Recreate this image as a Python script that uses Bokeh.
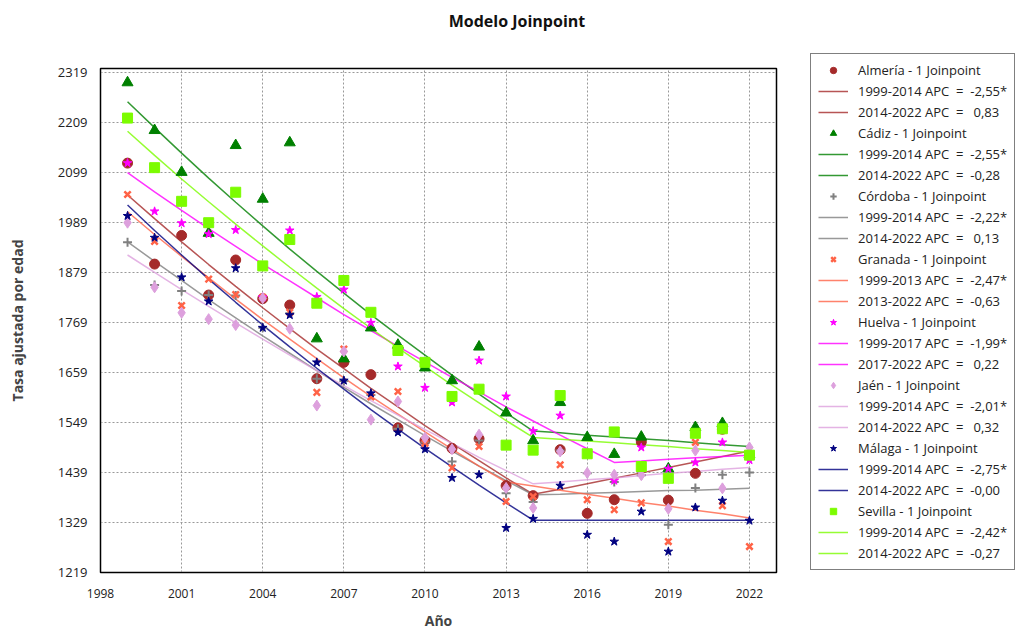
from bokeh.plotting import figure
from bokeh.models import Legend, LegendItem, FixedTicker, Range1d, Div
from bokeh.layouts import column
from bokeh.embed import file_html
from bokeh.resources import INLINE

years = list(range(1999, 2023))

provinces = ["Almería", "Cádiz", "Córdoba", "Granada", "Huelva", "Jaén", "Málaga", "Sevilla"]

obs_almeria = [2119, 1897, 1960, 1829, 1906, 1821, 1807, 1645, 1681, 1654, 1537, 1509, 1492, 1513, 1410, 1388, 1489, 1349, 1379, 1506, 1378, 1437, 1534, 1477]
obs_cadiz = [2296, 2191, 2099, 1965, 2158, 2040, 2164, 1733, 1689, 1757, 1719, 1669, 1641, 1715, 1570, 1509, 1593, 1516, 1479, 1517, 1447, 1538, 1547, 1478]
obs_cordoba = [1945, 1851, 1838, 1829, 1828, 1757, 1789, 1645, 1640, 1609, 1535, 1505, 1463, 1509, 1393, 1374, 1487, 1437, 1418, 1433, 1324, 1405, 1434, 1439]
obs_granada = [2050, 1947, 1806, 1864, 1830, 1824, 1791, 1615, 1710, 1605, 1617, 1503, 1449, 1496, 1375, 1386, 1456, 1379, 1357, 1372, 1287, 1505, 1366, 1276]
obs_huelva = [2119, 2013, 1987, 1963, 1972, 1824, 1971, 1825, 1841, 1768, 1672, 1625, 1593, 1685, 1606, 1530, 1564, 1481, 1421, 1494, 1447, 1461, 1505, 1466]
obs_jaen = [1988, 1846, 1790, 1776, 1763, 1822, 1755, 1586, 1705, 1555, 1595, 1515, 1490, 1522, 1405, 1361, 1485, 1438, 1434, 1433, 1359, 1487, 1404, 1494]
obs_malaga = [2003, 1955, 1868, 1815, 1888, 1757, 1785, 1681, 1641, 1613, 1527, 1490, 1427, 1434, 1317, 1337, 1410, 1302, 1287, 1353, 1265, 1362, 1377, 1333]
obs_sevilla = [2218, 2109, 2035, 1988, 2055, 1893, 1951, 1811, 1861, 1791, 1707, 1681, 1606, 1622, 1499, 1488, 1608, 1480, 1528, 1452, 1426, 1525, 1535, 1477]

fit_almeria = [2049, 1997, 1946, 1896, 1848, 1801, 1755, 1710, 1667, 1624, 1583, 1542, 1503, 1465, 1427, 1391, 1402, 1414, 1426, 1438, 1450, 1462, 1474, 1486]
fit_cadiz = [2254, 2197, 2141, 2086, 2033, 1981, 1930, 1881, 1833, 1786, 1741, 1697, 1653, 1611, 1570, 1530, 1526, 1521, 1517, 1513, 1509, 1504, 1500, 1496]
fit_cordoba = [1946, 1903, 1861, 1819, 1779, 1739, 1701, 1663, 1626, 1590, 1555, 1520, 1486, 1453, 1421, 1390, 1391, 1393, 1395, 1397, 1399, 1400, 1402, 1404]
fit_granada = [2012, 1962, 1914, 1867, 1820, 1775, 1732, 1689, 1647, 1606, 1567, 1528, 1490, 1453, 1418, 1409, 1400, 1391, 1382, 1373, 1365, 1356, 1348, 1339]
fit_huelva = [2098, 2056, 2015, 1975, 1936, 1897, 1860, 1823, 1786, 1751, 1716, 1682, 1648, 1616, 1583, 1552, 1521, 1491, 1461, 1464, 1468, 1471, 1474, 1477]
fit_jaen = [1917, 1879, 1841, 1804, 1768, 1732, 1697, 1663, 1630, 1597, 1565, 1533, 1503, 1472, 1443, 1414, 1418, 1423, 1427, 1432, 1437, 1441, 1446, 1450]
fit_malaga = [2027, 1971, 1917, 1864, 1813, 1763, 1715, 1668, 1622, 1577, 1534, 1492, 1451, 1411, 1372, 1334, 1334, 1334, 1334, 1334, 1334, 1334, 1334, 1334]
fit_sevilla = [2189, 2136, 2084, 2034, 1985, 1937, 1890, 1844, 1799, 1756, 1713, 1672, 1631, 1592, 1553, 1516, 1512, 1508, 1504, 1500, 1496, 1491, 1487, 1483]

seg1_labels = ["1999-2014 APC  =  -2,55*", "1999-2014 APC  =  -2,55*", "1999-2014 APC  =  -2,22*",
               "1999-2013 APC  =  -2,47*", "1999-2017 APC  =  -1,99*", "1999-2014 APC  =  -2,01*",
               "1999-2014 APC  =  -2,75*", "1999-2014 APC  =  -2,42*"]
seg2_labels = ["2014-2022 APC  =   0,83", "2014-2022 APC  =  -0,28", "2014-2022 APC  =   0,13",
               "2013-2022 APC  =  -0,63", "2017-2022 APC  =   0,22", "2014-2022 APC  =   0,32",
               "2014-2022 APC  =  -0,00", "2014-2022 APC  =  -0,27"]

y_ticks = [1219, 1329, 1439, 1549, 1659, 1769, 1879, 1989, 2099, 2209, 2319]
x_ticks = [1998, 2001, 2004, 2007, 2010, 2013, 2016, 2019, 2022]

observed = [obs_almeria, obs_cadiz, obs_cordoba, obs_granada, obs_huelva, obs_jaen, obs_malaga, obs_sevilla]
fitted = [fit_almeria, fit_cadiz, fit_cordoba, fit_granada, fit_huelva, fit_jaen, fit_malaga, fit_sevilla]

colors = ["#A52A2A", "#008000", "#808080", "#FF6347", "#FF00FF", "#DDA0DD", "#000080", "#7CFC00"]
markers = ["circle", "triangle", "cross", "x", "star", "diamond", "star", "square"]
sizes = [10, 11, 9, 9, 9, 11, 9, 10]
mline = [1, 1, 2, 2.5, 1, 1, 1, 1]

FONT = "Open Sans"

title_div = Div(text="Modelo Joinpoint", width=1024, height=34, margin=(0, 0, 0, 0),
                styles={"text-align": "center", "font-family": FONT, "font-size": "16px",
                        "font-weight": "bold", "color": "#111111", "padding-top": "11px",
                        "padding-left": "10px", "box-sizing": "border-box", "line-height": "20px"})

p = figure(frame_width=676, frame_height=504, output_backend="svg", toolbar_location=None,
           x_range=Range1d(1998, 2023), y_range=Range1d(1219, 2327),
           min_border_left=100, min_border_right=248, min_border_top=34, min_border_bottom=56)

p.outline_line_color = "black"
p.outline_line_width = 1.5
p.outline_line_alpha = 1

for ax in (p.xaxis[0], p.yaxis[0]):
    ax.major_tick_line_color = None
    ax.minor_tick_line_color = None
    ax.axis_line_color = "black"
    ax.major_label_text_font = FONT
    ax.major_label_text_color = "#222222"
    ax.axis_label_text_font = FONT
    ax.axis_label_text_font_style = "bold"
    ax.axis_label_text_font_size = "14px"

p.xaxis.ticker = FixedTicker(ticks=x_ticks)
p.yaxis.ticker = FixedTicker(ticks=y_ticks)
p.xaxis.major_label_text_font_size = "12px"
p.yaxis.major_label_text_font_size = "13px"
p.xaxis.major_label_standoff = 10
p.yaxis.major_label_standoff = 7
p.xaxis.axis_label = "Año"
p.yaxis.axis_label = "Tasa ajustada por edad"
p.xaxis.axis_label_standoff = 10
p.yaxis.axis_label_standoff = 28

p.grid.grid_line_color = "#999999"
p.grid.grid_line_dash = "2 2"
p.grid.grid_line_width = 1
p.xgrid.ticker = FixedTicker(ticks=x_ticks)
p.ygrid.ticker = FixedTicker(ticks=y_ticks)

line_renderers = []
for i in range(len(provinces)):
    lr = p.line(years, fitted[i], line_color=colors[i], line_width=1.5, line_alpha=0.8)
    line_renderers.append(lr)

scatter_renderers = []
for i in range(len(provinces)):
    sr = p.scatter(years, observed[i], marker=markers[i], size=sizes[i],
                   fill_color=colors[i], line_color=colors[i], line_width=mline[i])
    scatter_renderers.append(sr)

items = []
for i, name in enumerate(provinces):
    items.append(LegendItem(label=name + " - 1 Joinpoint", renderers=[scatter_renderers[i]]))
    items.append(LegendItem(label=seg1_labels[i], renderers=[line_renderers[i]]))
    items.append(LegendItem(label=seg2_labels[i], renderers=[line_renderers[i]]))

legend = Legend(items=items, location=(34, 2), orientation="vertical",
                label_text_font=FONT, label_text_font_size="13px", label_text_color="#222222",
                glyph_width=30, glyph_height=16, label_height=16, spacing=3,
                padding=7, margin=0, label_standoff=10,
                border_line_color="black", border_line_width=1, background_fill_alpha=1)
p.add_layout(legend, "right")

layout = column(title_div, p, spacing=0)

open("out.html", "w").write(file_html(layout, INLINE))
